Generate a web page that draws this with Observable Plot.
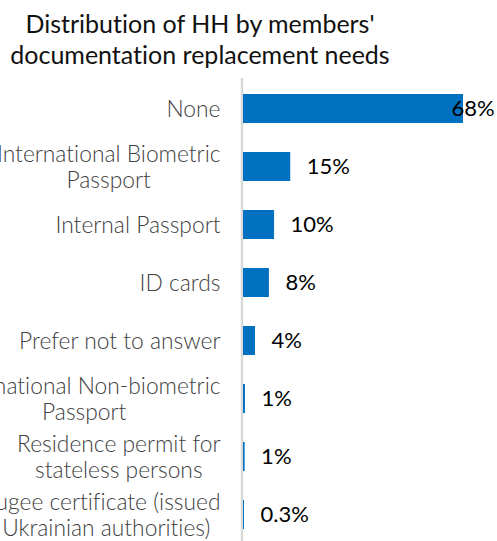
<!DOCTYPE html>
<html>
<head>
<meta charset="utf-8">
<script src="https://cdn.jsdelivr.net/npm/d3@7"></script>
<script src="https://cdn.jsdelivr.net/npm/@observablehq/plot@0.6"></script>
<style>
  html, body { margin: 0; padding: 0; background: #fff; }
  body { width: 497px; height: 541px; overflow: hidden; font-family: Lato, sans-serif; font-variant-ligatures: none; }
  #title { box-sizing: border-box; width: 400px; height: 78px; padding-top: 8px; text-align: center;
           font-family: Lato, sans-serif; font-size: 25px; line-height: 31px; color: #111; }
  #chart svg { display: block; font-variant-ligatures: none; }
</style>
</head>
<body>
<div id="title">Distribution of HH by members'<br>documentation replacement needs</div>
<div id="chart"></div>
<script>
const categories = [
  "None",
  "International Biometric Passport",
  "Internal Passport",
  "ID cards",
  "Prefer not to answer",
  "International Non-biometric Passport",
  "Residence permit for stateless persons",
  "Refugee certificate (issued by Ukrainian authorities)"
];
const wrappedLabels = [
  "None",
  "International Biometric\nPassport",
  "Internal Passport",
  "ID cards",
  "Prefer not to answer",
  "International Non-biometric\nPassport",
  "Residence permit for\nstateless persons",
  "Refugee certificate (issued\nby Ukrainian authorities)"
];
const values = [68, 14.6, 9.6, 8.0, 3.7, 0.6, 0.5, 0.3];
const valueLabels = ["68%", "15%", "10%", "8%", "4%", "1%", "1%", "0.3%"];

const data = categories.map((c, i) => ({category: c, value: values[i], label: valueLabels[i]}));
const maxV = d3.max(values);
const wrapMap = new Map(categories.map((c, i) => [c, wrappedLabels[i]]));

const chart = Plot.plot({
  width: 497,
  height: 467,
  marginLeft: 243,
  marginRight: 34,
  marginTop: 0,
  marginBottom: 0,
  style: {fontFamily: "Lato, sans-serif", background: "white", overflow: "visible"},
  x: {domain: [0, maxV], axis: null},
  y: {domain: categories, paddingInner: 0.5, paddingOuter: 0.25, axis: null},
  marks: [
    Plot.ruleX([0], {stroke: "#d9d9d9", strokeWidth: 2.5, dx: -1.5}),
    Plot.barX(data, {x: "value", y: "category", fill: "#0070C0"}),
    Plot.text(data.filter(d => d.value < maxV), {x: "value", y: "category", text: "label", textAnchor: "start", dx: 16, fontSize: 22, fill: "#000"}),
    Plot.text(data.filter(d => d.value === maxV), {x: "value", y: "category", text: "label", textAnchor: "start", dx: -12, fontSize: 22, fill: "#000"}),
    Plot.axisY({tickSize: 0, tickPadding: 23, fontSize: 22.8, fontWeight: 300, lineHeight: 1.14, fill: "#404040", label: null,
      tickFormat: d => wrapMap.get(d)})
  ]
});
document.getElementById("chart").appendChild(chart);

// Center multi-line labels within their block (block right-aligned next to the axis)
chart.querySelectorAll("text").forEach(t => {
  const spans = t.querySelectorAll("tspan");
  if (spans.length > 1) {
    const w = d3.max(Array.from(spans), s => s.getComputedTextLength());
    t.setAttribute("text-anchor", "middle");
    t.style.textAnchor = "middle";
    const tr = t.getAttribute("transform") || "";
    t.setAttribute("transform", tr + ` translate(${-w / 2},0)`);
  }
});
</script>
</body>
</html>
